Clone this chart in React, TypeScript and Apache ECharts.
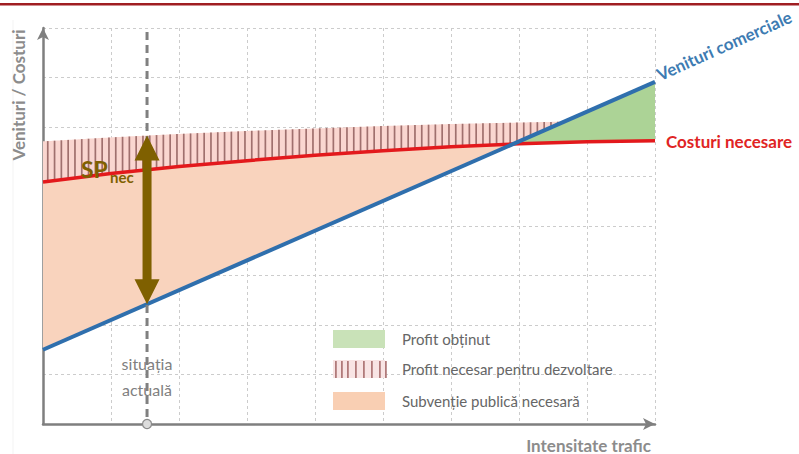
import React, { useEffect, useRef } from "react";
import * as echarts from "echarts";

// ---- data (conceptual diagram values) ----
const revenueX = [0, 9];
const revenueY = [1.5, 6.91];
const costX = [0, 1, 2, 3, 4, 5, 6, 7, 8, 9];
const costY = [4.89, 5.06, 5.2, 5.32, 5.43, 5.52, 5.6, 5.66, 5.7, 5.72];
const profitNeedX = [0, 1, 2, 3, 4, 5, 6, 7, 7.7];
const profitNeedY = [5.71, 5.79, 5.86, 5.92, 5.97, 6.02, 6.06, 6.09, 6.11];
const currentTraffic = 1.53;
const guideTop = 7.92;
const seriesNames = ["Venituri comerciale", "Costuri necesare"];
const legendLabels = [
  "Profit obținut",
  "Profit necesar pentru dezvoltare",
  "Subvenție publică necesară",
];
const axisNames = ["Intensitate trafic", "Venituri / Costuri"];
const currentLabel = ["situația", "actuală"];

const FONT = "Lato, 'Open Sans', sans-serif";

function interp(xs: number[], ys: number[], x: number): number {
  if (x <= xs[0]) return ys[0];
  for (let i = 1; i < xs.length; i++) {
    if (x <= xs[i]) {
      const t = (x - xs[i - 1]) / (xs[i] - xs[i - 1]);
      return ys[i - 1] + t * (ys[i] - ys[i - 1]);
    }
  }
  const n = xs.length - 1;
  const t = (x - xs[n - 1]) / (xs[n] - xs[n - 1]);
  return ys[n - 1] + t * (ys[n] - ys[n - 1]);
}
const rev = (x: number) => interp(revenueX, revenueY, x);
const cost = (x: number) => interp(costX, costY, x);
const need = (x: number) => interp(profitNeedX, profitNeedY, x);

function findCross(f: (x: number) => number, g: (x: number) => number, a: number, b: number) {
  for (let x = a; x <= b; x += 0.005) {
    if (f(x) >= g(x)) return x;
  }
  return b;
}

export default function App() {
  const ref = useRef<HTMLDivElement>(null);
  useEffect(() => {
    if (!ref.current) return;
    const chart = echarts.init(ref.current, undefined, { renderer: "svg" });
    const xMax = costX[costX.length - 1];
    const xi = findCross(rev, cost, 0, xMax);
    const lower = (x: number) => Math.max(rev(x), cost(x));
    const xh = Math.min(findCross(lower, need, 0, xMax), profitNeedX[profitNeedX.length - 1]);

    const sample = (a: number, b: number) => {
      const out: number[] = [];
      const n = Math.max(2, Math.ceil((b - a) / 0.02));
      for (let i = 0; i <= n; i++) out.push(a + ((b - a) * i) / n);
      return out;
    };

    const fillsRender = (_p: any, api: any) => {
      const c = (x: number, y: number) => api.coord([x, y]);
      const s1 = sample(0, xi);
      const peach = [...s1.map((x) => c(x, cost(x))), ...s1.slice().reverse().map((x) => c(x, rev(x)))];
      const s2 = sample(xi, xMax);
      const green = [...s2.map((x) => c(x, rev(x))), ...s2.slice().reverse().map((x) => c(x, cost(x)))];
      const s3 = sample(0, xh);
      const hatch = [...s3.map((x) => c(x, need(x))), ...s3.slice().reverse().map((x) => c(x, lower(x)))];
      const stripes: any[] = [];
      for (let x = 0.07; x < xh - 0.02; x += 0.1) {
        const p1 = c(x, lower(x));
        const p2 = c(x, need(x));
        stripes.push({
          type: "line",
          shape: { x1: p1[0], y1: p1[1], x2: p2[0], y2: p2[1] },
          style: { stroke: "#a0706e", lineWidth: 1.7 },
        });
      }
      return {
        type: "group",
        children: [
          { type: "polygon", shape: { points: peach }, style: { fill: "#f9d3bd" } },
          { type: "polygon", shape: { points: green }, style: { fill: "#acd396" } },
          { type: "polygon", shape: { points: hatch }, style: { fill: "#fad6d0" } },
          ...stripes,
        ],
      };
    };

    const overlayRender = (_p: any, api: any) => {
      const top = api.coord([currentTraffic, guideTop]);
      const bottom = api.coord([currentTraffic, 0]);
      const tT = api.coord([currentTraffic, need(currentTraffic)]);
      const tB = api.coord([currentTraffic, rev(currentTraffic)]);
      const x = tT[0];
      const yT = tT[1];
      const yB = tB[1];
      const hw = 12.5, sw = 4.5, hl = 25;
      const arrow = [
        [x, yT], [x + hw, yT + hl], [x + sw, yT + hl], [x + sw, yB - hl], [x + hw, yB - hl],
        [x, yB], [x - hw, yB - hl], [x - sw, yB - hl], [x - sw, yT + hl], [x - hw, yT + hl],
      ];
      return {
        type: "group",
        children: [
          {
            type: "line",
            shape: { x1: top[0], y1: top[1], x2: bottom[0], y2: bottom[1] },
            style: { stroke: "#808080", lineWidth: 3, lineDash: [8, 5] },
          },
          {
            type: "circle",
            shape: { cx: bottom[0], cy: bottom[1], r: 4.5 },
            style: { fill: "#dcdcdc", stroke: "#8a8a8a", lineWidth: 1.2 },
          },
          { type: "polygon", shape: { points: arrow }, style: { fill: "#7f6000" } },
        ],
      };
    };

    const legendY = [339, 369, 401];
    const stripeSwatch: any[] = [0, 6, 12, 20, 28, 36, 44, 50].map((dx) => ({
      type: "rect",
      shape: { x: 335 + dx, y: 361, width: 1.8, height: 17 },
      style: { fill: "#b07a7a" },
    }));

    chart.setOption({
      animation: false,
      backgroundColor: "#ffffff",
      grid: { left: 43, right: 144, top: 28, bottom: 30 },
      xAxis: {
        type: "value",
        min: 0,
        max: 9,
        interval: 1,
        axisLine: {
          show: true,
          lineStyle: { color: "#7f7f7f", width: 2.5 },
          symbol: ["none", "arrow"],
          symbolSize: [9, 12],
        },
        axisTick: { show: false },
        axisLabel: { show: false },
        splitLine: { show: true, lineStyle: { color: "#cccccc", type: [3, 3], width: 1 } },
      },
      yAxis: {
        type: "value",
        min: 0,
        max: 8,
        interval: 1,
        axisLine: {
          show: true,
          lineStyle: { color: "#7f7f7f", width: 2.5 },
          symbol: ["none", "arrow"],
          symbolSize: [9, 12],
        },
        axisTick: { show: false },
        axisLabel: { show: false },
        splitLine: { show: true, lineStyle: { color: "#cccccc", type: [3, 3], width: 1 } },
      },
      series: [
        {
          type: "custom",
          z: 1,
          silent: true,
          renderItem: fillsRender,
          data: [[0, 0]],
        },
        {
          name: seriesNames[1],
          type: "line",
          z: 3,
          symbol: "none",
          data: costX.map((x, i) => [x, costY[i]]),
          lineStyle: { color: "#e3191c", width: 3.5 },
        },
        {
          name: seriesNames[0],
          type: "line",
          z: 4,
          symbol: "none",
          data: revenueX.map((x, i) => [x, revenueY[i]]),
          lineStyle: { color: "#2f6fad", width: 4 },
        },
        {
          type: "custom",
          z: 5,
          silent: true,
          renderItem: overlayRender,
          data: [[0, 0]],
        },
      ],
      graphic: [
        { type: "rect", shape: { x: 0, y: 3, width: 799, height: 2.5 }, style: { fill: "#a01e22" } },
        { type: "rect", shape: { x: 12.5, y: 20, width: 1, height: 434 }, style: { fill: "#f3f3f3" } },
        {
          type: "text",
          x: 18,
          y: 95,
          rotation: Math.PI / 2,
          style: {
            text: axisNames[1],
            fill: "#8c8c8c",
            font: `bold 17px ${FONT}`,
            align: "center",
            verticalAlign: "middle",
          },
        },
        {
          type: "text",
          x: 651,
          y: 445,
          style: {
            text: axisNames[0],
            fill: "#8c8c8c",
            font: `bold 17px ${FONT}`,
            align: "right",
            verticalAlign: "middle",
          },
        },
        {
          type: "text",
          x: 661,
          y: 83,
          rotation: 0.42,
          style: {
            text: seriesNames[0],
            fill: "#3d7bb2",
            font: `bold 17px ${FONT}`,
            align: "left",
            verticalAlign: "bottom",
          },
        },
        {
          type: "text",
          x: 666,
          y: 141,
          style: {
            text: seriesNames[1],
            fill: "#e02424",
            font: `bold 17px ${FONT}`,
            align: "left",
            verticalAlign: "middle",
          },
        },
        {
          type: "text",
          x: 81,
          y: 169,
          z: 10,
          style: { text: "SP", fill: "#7f6000", font: `bold 23px ${FONT}`, align: "left", verticalAlign: "middle" },
        },
        {
          type: "text",
          x: 110,
          y: 177,
          z: 10,
          style: { text: "nec", fill: "#7f6000", font: `bold 15px ${FONT}`, align: "left", verticalAlign: "middle" },
        },
        {
          type: "text",
          x: 147,
          y: 363,
          z: 10,
          style: { text: currentLabel[0], fill: "#808080", font: `16px ${FONT}`, align: "center", verticalAlign: "middle" },
        },
        {
          type: "text",
          x: 147,
          y: 389,
          z: 10,
          style: { text: currentLabel[1], fill: "#808080", font: `16px ${FONT}`, align: "center", verticalAlign: "middle" },
        },
        // legend
        { type: "rect", z: 10, shape: { x: 333, y: 330, width: 52, height: 18 }, style: { fill: "#c9e2b8" } },
        { type: "rect", z: 10, shape: { x: 333, y: 360, width: 52, height: 18 }, style: { fill: "#f8e4e4" } },
        ...stripeSwatch.map((s) => ({ ...s, z: 11 })),
        { type: "rect", z: 10, shape: { x: 333, y: 392, width: 52, height: 18 }, style: { fill: "#f9cfb3" } },
        ...legendLabels.map((t, i) => ({
          type: "text",
          z: 10,
          x: 402,
          y: legendY[i],
          style: { text: t, fill: "#666666", font: `15px ${FONT}`, align: "left", verticalAlign: "middle" },
        })),
      ],
    });
    return () => chart.dispose();
  }, []);
  return (
    <div
      ref={ref}
      style={{ position: "fixed", left: 0, top: 0, width: 799, height: 454, background: "#fff" }}
    />
  );
}
